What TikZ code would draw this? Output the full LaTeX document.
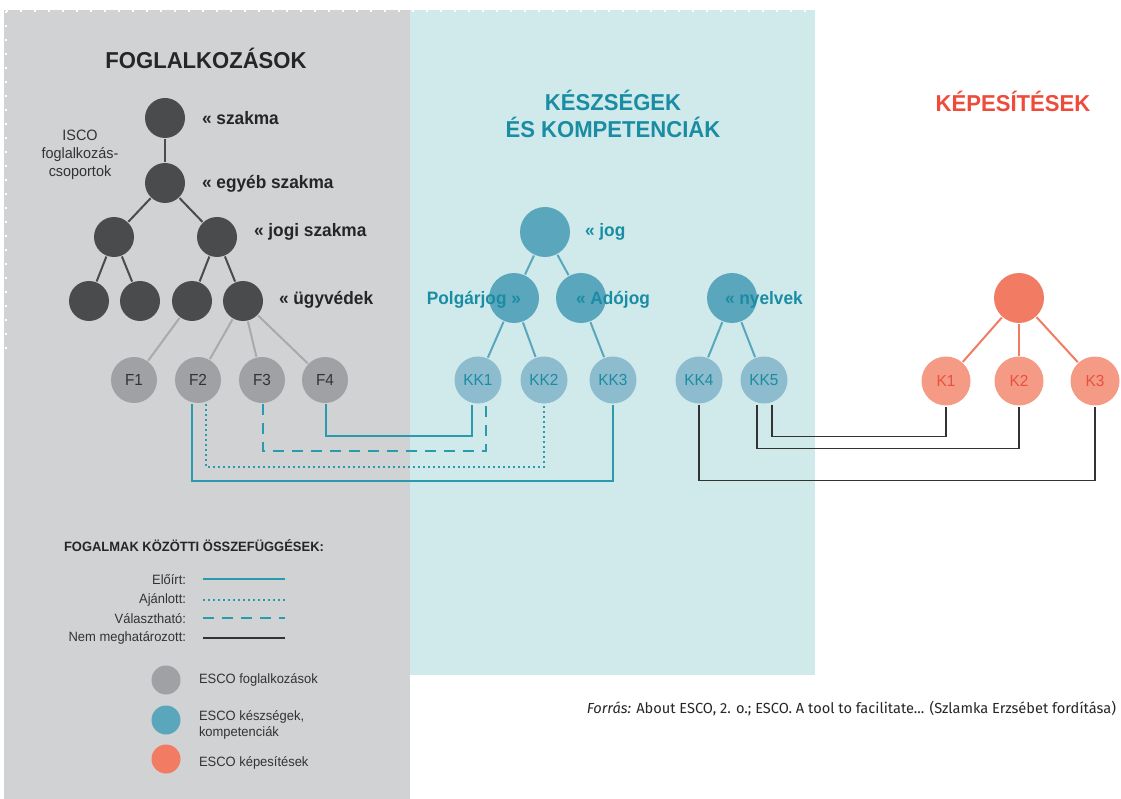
\documentclass[tikz,border=0pt]{standalone}
\usepackage{fontspec}
\setmainfont{Liberation Sans}[FakeStretch=0.96]
\newfontfamily\srcfont{Fira Sans}

\definecolor{graypanel}{HTML}{D1D2D4}
\definecolor{tealpanel}{HTML}{D0EAEB}
\definecolor{darknode}{HTML}{4A4B4D}
\definecolor{fnode}{HTML}{A0A1A4}
\definecolor{fline}{HTML}{A9AAAC}
\definecolor{tealnode}{HTML}{5AA6BC}
\definecolor{kknode}{HTML}{8DBCCE}
\definecolor{tealtext}{HTML}{1A8CA3}
\definecolor{redtitle}{HTML}{EE4B3B}
\definecolor{ktop}{HTML}{F27C63}
\definecolor{knode}{HTML}{F59B85}
\definecolor{ktext}{HTML}{E8513F}
\definecolor{linkteal}{HTML}{2A9AAF}
\definecolor{linkblack}{HTML}{333333}

\newcommand{\fsz}[1]{\fontsize{#1}{#1}\selectfont}

\begin{document}
\begin{tikzpicture}[x=1pt,y=-1pt,line width=2pt,
  dark/.style={circle,fill=darknode,minimum size=40pt,inner sep=0pt},
  fbox/.style={circle,fill=fnode,minimum size=46pt,inner sep=0pt,text=black!80,font=\fsz{16}},
  jnode/.style={circle,fill=tealnode,minimum size=50pt,inner sep=0pt},
  kkbox/.style={circle,fill=kknode,minimum size=47pt,inner sep=0pt,text=tealtext,font=\fsz{16}},
  kbox/.style={circle,fill=knode,minimum size=49pt,inner sep=0pt,text=ktext,font=\fsz{16}},
  lbl/.style={anchor=west,inner sep=0pt,font=\bfseries\fsz{18}},
  title/.style={align=center,font=\bfseries\fsz{23}},
  link/.style={linkteal,line width=1.4pt},
  nolink/.style={linkblack,line width=1.4pt},
  dotlink/.style={link,line width=1.8pt,dash pattern=on 1.8pt off 3.2pt},
  dashlink/.style={link,dash pattern=on 11pt off 8pt},
  legtxt/.style={inner sep=0pt,font=\fsz{13.5}}]

\useasboundingbox (0,0) rectangle (1121,799);
\fill[graypanel] (4,10) rectangle (410,799);
\fill[tealpanel] (410,10) rectangle (815,675);
\draw[white,line width=2.2pt,dash pattern=on 2pt off 12pt] (6,11) -- (815,11);
\draw[white,line width=2.2pt,dash pattern=on 2pt off 12pt] (6,11) -- (6,352);

\node[title,text=black!85] (tfog) at (206,58) {FOGLALKOZÁSOK};
\node[title,text=tealtext] (tkesz) at (613,114) {KÉSZSÉGEK\\[4pt]ÉS KOMPETENCIÁK};
\node[title,text=redtitle] (tkep) at (1013,101) {KÉPESÍTÉSEK};
\node[align=center,font=\fsz{15},text=black!80] (isco) at (80,155) {ISCO\\[3pt]foglalkozás-\\[3pt]csoportok};

\node[dark] (szakma) at (165,118) {};
\node[dark] (egyeb) at (165,183) {};
\node[dark] (jogi1) at (114,237) {};
\node[dark] (jogi2) at (217,237) {};
\node[dark] (u1) at (89,301) {};
\node[dark] (u2) at (140,301) {};
\node[dark] (u3) at (192,301) {};
\node[dark] (u4) at (243,301) {};
\draw[darknode] (szakma) -- (egyeb);
\draw[darknode] (egyeb) -- (jogi1);
\draw[darknode] (egyeb) -- (jogi2);
\draw[darknode] (jogi1) -- (u1);
\draw[darknode] (jogi1) -- (u2);
\draw[darknode] (jogi2) -- (u3);
\draw[darknode] (jogi2) -- (u4);
\node[lbl,text=black!85] at (201,118) {« szakma};
\node[lbl,text=black!85] at (201,184) {« egyéb szakma};
\node[lbl,text=black!85] at (253,232) {« jogi szakma};
\node[lbl,text=black!85] at (278,300) {« ügyvédek};

\node[fbox] (F1) at (134,380) {F1};
\node[fbox] (F2) at (198,380) {F2};
\node[fbox] (F3) at (262,380) {F3};
\node[fbox] (F4) at (325,380) {F4};
\draw[fline] (u3) -- (F1);
\draw[fline] (u4) -- (F2);
\draw[fline] (u4) -- (F3);
\draw[fline] (u4) -- (F4);

\node[jnode] (jog) at (545,232) {};
\node[jnode] (polg) at (514,298) {};
\node[jnode] (ado) at (581,298) {};
\node[jnode] (nyelv) at (732,298) {};
\node[kkbox] (KK1) at (478,380) {KK1};
\node[kkbox] (KK2) at (544,380) {KK2};
\node[kkbox] (KK3) at (613,380) {KK3};
\node[kkbox] (KK4) at (699,380) {KK4};
\node[kkbox] (KK5) at (764,380) {KK5};
\draw[tealnode] (jog) -- (polg);
\draw[tealnode] (jog) -- (ado);
\draw[tealnode] (polg) -- (KK1);
\draw[tealnode] (polg) -- (KK2);
\draw[tealnode] (ado) -- (KK3);
\draw[tealnode] (nyelv) -- (KK4);
\draw[tealnode] (nyelv) -- (KK5);
\node[lbl,text=tealtext] at (584,232) {« jog};
\node[lbl,text=tealtext,anchor=east] at (522,300) {Polgárjog »};
\node[lbl,text=tealtext] at (575,300) {« Adójog};
\node[lbl,text=tealtext] at (724,300) {« nyelvek};

\node[circle,fill=ktop,minimum size=50pt,inner sep=0pt] (ktop) at (1019,298) {};
\node[kbox] (K1) at (946,381) {K1};
\node[kbox] (K2) at (1019,381) {K2};
\node[kbox] (K3) at (1095,381) {K3};
\draw[ktop] (ktop) -- (K1);
\draw[ktop] (ktop) -- (K2);
\draw[ktop] (ktop) -- (K3);

\draw[link] ([xshift=1pt]F4.south) -- ++(0,32) -| ([xshift=-6pt]KK1.south);
\draw[dashlink] ([xshift=1pt]F3.south) -- ++(0,47) -| ([xshift=8pt]KK1.south);
\draw[dotlink] ([xshift=8pt]F2.south) -- ++(0,63) -| (KK2.south);
\draw[link] ([xshift=-6pt]F2.south) -- ++(0,77) -| (KK3.south);
\draw[nolink] ([xshift=8pt]KK5.south) -- ++(0,32) -| (K1.south);
\draw[nolink] ([xshift=-7pt]KK5.south) -- ++(0,44) -| (K2.south);
\draw[nolink] (KK4.south) -- ++(0,76) -| (K3.south);

\node[anchor=west,inner sep=0pt,font=\bfseries\fsz{13.5},text=black!85] (fogalmak) at (63,546) {FOGALMAK KÖZÖTTI ÖSSZEFÜGGÉSEK:};
\node[legtxt,anchor=east,text=black!80] (l1) at (187,580) {Előírt:};
\node[legtxt,anchor=east,text=black!80] (l2) at (187,600) {Ajánlott:};
\node[legtxt,anchor=east,text=black!80] (l3) at (187,619) {Választható:};
\node[legtxt,anchor=east,text=black!80] (l4) at (187,638) {Nem meghatározott:};
\draw[link] (203,579) -- (285,579);
\draw[dotlink] (203,600) -- (285,600);
\draw[dashlink] (203,618) -- (285,618);
\draw[nolink] (203,638) -- (285,638);

\node[circle,fill=fnode,minimum size=29pt] (c1) at (166,680) {};
\node[circle,fill=tealnode,minimum size=29pt] (c2) at (166,720) {};
\node[circle,fill=ktop,minimum size=29pt] (c3) at (166,759) {};
\node[legtxt,anchor=west,text=black!80] at (198,680) {ESCO foglalkozások};
\node[legtxt,anchor=west,text=black!80,align=left] at (198,725) {ESCO készségek,\\[2pt]kompetenciák};
\node[legtxt,anchor=west,text=black!80] at (198,763) {ESCO képesítések};

\node[anchor=east,inner sep=0pt,font=\srcfont\fsz{14.6},text=black!85] (src) at (1117,709) {\textit{Forrás:} About ESCO, 2. o.; ESCO. A tool to facilitate... (Szlamka Erzsébet fordítása)};

\end{tikzpicture}
\end{document}
